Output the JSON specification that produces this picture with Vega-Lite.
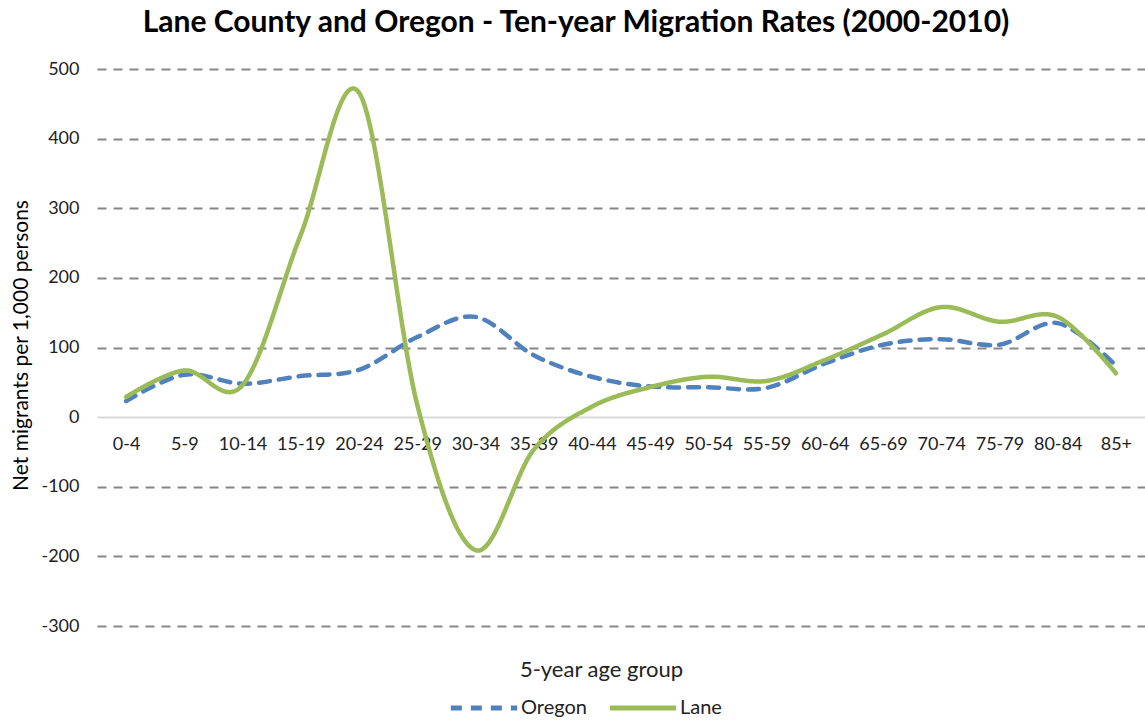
{
  "$schema": "https://vega.github.io/schema/vega-lite/v6.json",
  "autosize": "none",
  "width": 1048,
  "height": 557,
  "padding": {"left": 97, "top": 69, "right": 0, "bottom": 95},
  "background": "white",
  "title": {
    "text": "Lane County and Oregon - Ten-year Migration Rates (2000-2010)",
    "font": "Lato",
    "fontSize": 30,
    "fontWeight": "bold",
    "color": "#000000",
    "anchor": "middle",
    "dx": -45,
    "offset": 22
  },
  "config": {
    "view": {"stroke": null},
    "font": "Lato"
  },
  "data": {
    "values": [
      {"age": "0-4", "series": "Oregon", "rate": 23},
      {"age": "5-9", "series": "Oregon", "rate": 61},
      {"age": "10-14", "series": "Oregon", "rate": 48},
      {"age": "15-19", "series": "Oregon", "rate": 59},
      {"age": "20-24", "series": "Oregon", "rate": 68},
      {"age": "25-29", "series": "Oregon", "rate": 115},
      {"age": "30-34", "series": "Oregon", "rate": 144},
      {"age": "35-39", "series": "Oregon", "rate": 89},
      {"age": "40-44", "series": "Oregon", "rate": 58},
      {"age": "45-49", "series": "Oregon", "rate": 44},
      {"age": "50-54", "series": "Oregon", "rate": 43},
      {"age": "55-59", "series": "Oregon", "rate": 42},
      {"age": "60-64", "series": "Oregon", "rate": 77},
      {"age": "65-69", "series": "Oregon", "rate": 104},
      {"age": "70-74", "series": "Oregon", "rate": 112},
      {"age": "75-79", "series": "Oregon", "rate": 104},
      {"age": "80-84", "series": "Oregon", "rate": 135},
      {"age": "85+", "series": "Oregon", "rate": 74},
      {"age": "0-4", "series": "Lane", "rate": 29},
      {"age": "5-9", "series": "Lane", "rate": 67},
      {"age": "10-14", "series": "Lane", "rate": 46},
      {"age": "15-19", "series": "Lane", "rate": 262},
      {"age": "20-24", "series": "Lane", "rate": 466},
      {"age": "25-29", "series": "Lane", "rate": 18},
      {"age": "30-34", "series": "Lane", "rate": -191},
      {"age": "35-39", "series": "Lane", "rate": -47},
      {"age": "40-44", "series": "Lane", "rate": 15},
      {"age": "45-49", "series": "Lane", "rate": 43},
      {"age": "50-54", "series": "Lane", "rate": 58},
      {"age": "55-59", "series": "Lane", "rate": 52},
      {"age": "60-64", "series": "Lane", "rate": 82},
      {"age": "65-69", "series": "Lane", "rate": 119},
      {"age": "70-74", "series": "Lane", "rate": 158},
      {"age": "75-79", "series": "Lane", "rate": 137},
      {"age": "80-84", "series": "Lane", "rate": 144},
      {"age": "85+", "series": "Lane", "rate": 63}
    ]
  },
  "mark": {
    "type": "line",
    "interpolate": "cardinal",
    "tension": 0,
    "strokeWidth": 4.5,
    "strokeCap": "round",
    "strokeJoin": "round"
  },
  "encoding": {
    "x": {
      "field": "age",
      "type": "ordinal",
      "sort": null,
      "scale": {"type": "point", "padding": 0.5},
      "axis": {
        "title": "5-year age group",
        "offset": -209,
        "labelAngle": 0,
        "labelFont": "Lato",
        "labelFontSize": 18,
        "labelColor": "#222222",
        "labelPadding": 18,
        "ticks": false,
        "domain": false,
        "grid": false,
        "titleFont": "Lato",
        "titleFontSize": 22,
        "titleFontWeight": "normal",
        "titleColor": "#222222",
        "titleX": 504,
        "titleY": 242,
        "titleAlign": "center",
        "titleBaseline": "top"
      }
    },
    "y": {
      "field": "rate",
      "type": "quantitative",
      "scale": {"domain": [-300, 500], "nice": false, "zero": false},
      "axis": {
        "title": "Net migrants per 1,000 persons",
        "values": [-300, -200, -100, 0, 100, 200, 300, 400, 500],
        "labelExpr": "'' + datum.value",
        "labelFont": "Lato",
        "labelFontSize": 18,
        "labelColor": "#222222",
        "labelPadding": 18,
        "ticks": false,
        "domain": false,
        "grid": true,
        "gridColor": {"condition": {"test": "datum.value === 0", "value": "#d9d9d9"}, "value": "#878787"},
        "gridDash": {"condition": {"test": "datum.value === 0", "value": []}, "value": [9, 7]},
        "gridWidth": 2,
        "titleFont": "Lato",
        "titleFontSize": 21,
        "titleFontWeight": "normal",
        "titleColor": "#000000",
        "titleAngle": -90,
        "titleX": -76,
        "titleY": 276,
        "titleAlign": "center",
        "titleBaseline": "middle"
      }
    },
    "color": {
      "field": "series",
      "type": "nominal",
      "scale": {"domain": ["Oregon", "Lane"], "range": ["#4f81bd", "#9bbb59"]},
      "legend": {
        "title": null,
        "orient": "none",
        "direction": "horizontal",
        "legendX": 351,
        "legendY": 603,
        "symbolType": "stroke",
        "symbolSize": 4400,
        "symbolStrokeWidth": 5,
        "labelFont": "Lato",
        "labelFontSize": 20,
        "labelColor": "#222222",
        "columnPadding": 12,
        "labelOffset": 1
      }
    },
    "strokeDash": {
      "field": "series",
      "type": "nominal",
      "scale": {"domain": ["Oregon", "Lane"], "range": [[11, 9], [1, 0]]},
      "legend": null
    }
  }
}
